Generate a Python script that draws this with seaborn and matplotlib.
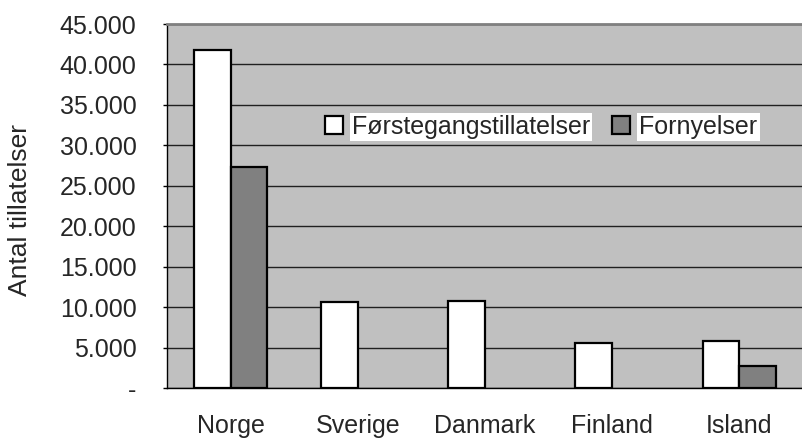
import pandas as pd
import matplotlib.pyplot as plt
import numpy as np
import seaborn as sns
from matplotlib.patches import Patch

lande = ["Norge", "Sverige", "Danmark", "Finland", "Island"]
forste = [41800, 10600, 10700, 5600, 5850]
fornyelser = [27300, 0, 0, 0, 2680]
serier = ["Førstegangstillatelser", "Fornyelser"]
farver = ["white", "#808080"]
yticks = [0, 5000, 10000, 15000, 20000, 25000, 30000, 35000, 40000, 45000]
ylabels = ["-", "5.000", "10.000", "15.000", "20.000", "25.000", "30.000", "35.000", "40.000", "45.000"]

df = pd.DataFrame({
    "land": lande * 2,
    "serie": [serier[0]] * 5 + [serier[1]] * 5,
    "antal": forste + fornyelser,
})

sns.set_style("white")
plt.rcParams['font.family'] = ['Liberation Sans', 'DejaVu Sans']

fig = plt.figure(figsize=(8.03, 4.38), dpi=100)
ax = fig.add_axes([167 / 803, 1 - 388 / 438, 1 - 167 / 803, (388 - 24) / 438])
ax.set_facecolor("#C0C0C0")

sns.barplot(data=df, x="land", y="antal", hue="serie", order=lande, hue_order=serier,
            palette=farver, edgecolor="black", linewidth=1.6,
            width=0.58, gap=0, ax=ax, zorder=3, legend=False)

# drop the empty Fornyelser bars
for p in ax.patches:
    if p.get_height() == 0:
        p.set_visible(False)

ax.set_ylim(0, 45000)
ax.set_xlim(-0.5, -0.5 + 636 / 129.6)
ax.set_yticks(yticks)
ax.set_yticklabels(ylabels, fontsize=18)
ax.yaxis.grid(True, color="#202020", linewidth=1)
ax.set_axisbelow(True)

ax.set_xticks(range(len(lande)))
ax.set_xticklabels(lande, fontsize=18)
ax.set_xticks(np.arange(-0.5, 5, 1), minor=True)
ax.tick_params(axis="x", which="major", length=0, pad=18.5)
ax.tick_params(axis="x", which="minor", length=6.5, width=1, color="black", direction="out")
ax.tick_params(axis="y", length=3, width=1, color="black", direction="out", pad=19, left=True)

for s in ["left", "bottom"]:
    ax.spines[s].set_color("black")
    ax.spines[s].set_linewidth(1)
ax.spines["top"].set_color("#808080")
ax.spines["top"].set_linewidth(2)
ax.spines["right"].set_visible(False)

ax.set_xlabel("")
ax.set_ylabel("Antal tillatelser", fontsize=19)
ax.yaxis.set_label_coords(-0.212, 0.49)

handles = [Patch(facecolor=c, edgecolor="black", linewidth=1.6, label=s) for c, s in zip(farver, serier)]
leg = ax.legend(handles=handles, loc="center left", bbox_to_anchor=(0.248, 0.717), ncol=2,
                frameon=False, fontsize=18, handlelength=0.72, handleheight=0.72,
                handletextpad=0.36, columnspacing=0.9, borderaxespad=0, borderpad=0)
for t in leg.get_texts():
    t.set_bbox(dict(facecolor="white", edgecolor="none", pad=1.5))

fig.savefig("out.png", dpi=100)
